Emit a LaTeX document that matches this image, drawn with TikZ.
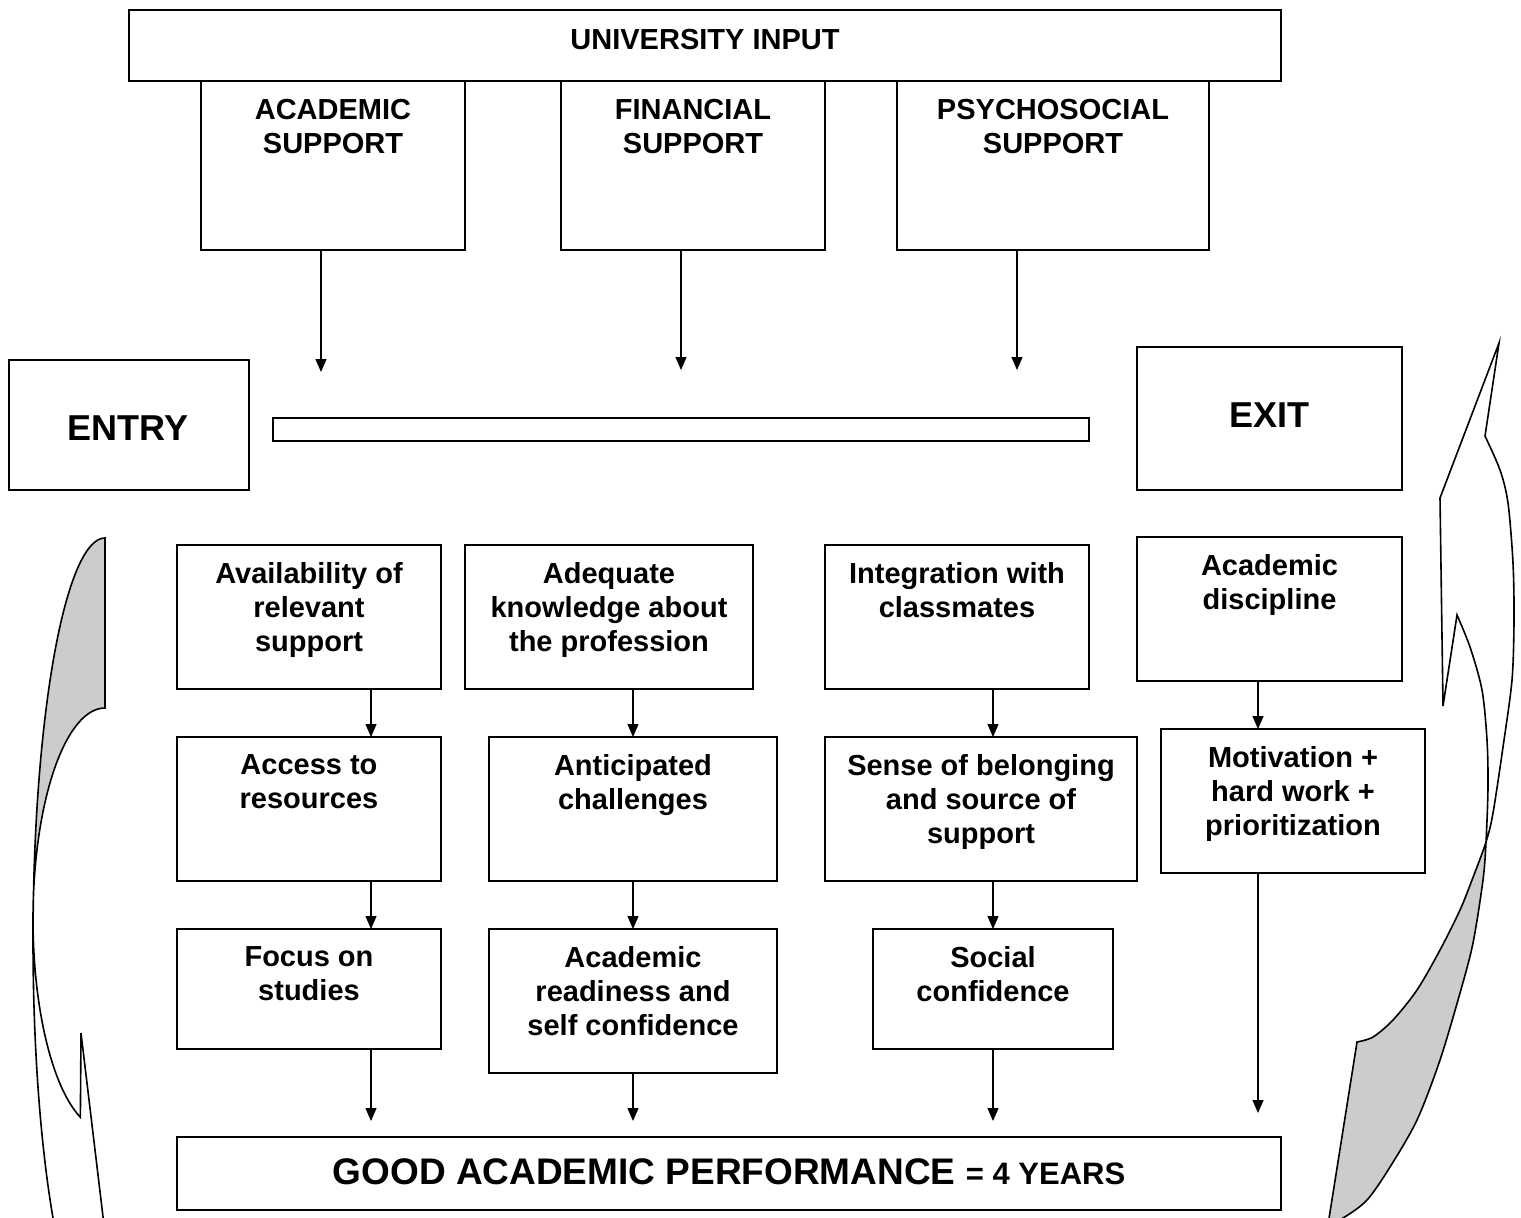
\documentclass[tikz,border=0pt]{standalone}
\usepackage{fontspec}
\setmainfont{Liberation Sans}
\usetikzlibrary{arrows.meta}
\definecolor{backface}{gray}{0.8}
\begin{document}
\begin{tikzpicture}[x=1pt, y=-1pt,
  box/.style={draw, line width=1.7pt, anchor=north west, inner sep=0pt, outer sep=0pt},
  txt/.style={anchor=north, align=center, inner sep=0pt, font=\bfseries\fontsize{29}{34}\selectfont},
  big/.style={inner sep=0pt, font=\bfseries\fontsize{36}{40}\selectfont},
  arr/.style={line width=1.3pt, -{Triangle[length=13pt,width=11pt]}},
  band/.style={line width=1.6pt, line join=miter}]
\useasboundingbox (0,0) rectangle (1521,1218);

% ---- curved arrows at both sides ----
\begin{scope}
  \clip (0,0) rectangle (1521,1218);
  % left arrow, pointing down
  \fill[backface]
    plot[domain=270:180, samples=50, variable=\t] ({105+72*cos(\t)},{940+402*sin(\t)})
    -- plot[domain=180:270, samples=50, variable=\t] ({105+72*cos(\t)},{919+211*sin(\t)})
    -- cycle;
  \draw[band] (107,1250) -- (81,1033)
    -- plot[domain=110:270, samples=80, variable=\t] ({105+72*cos(\t)},{919+211*sin(\t)})
    -- plot[domain=270:125, samples=100, variable=\t] ({105+72*cos(\t)},{940+402*sin(\t)});
  % right arrow, pointing up
  \fill[backface]
    plot[smooth] coordinates {(1486,842) (1472,880) (1460,910) (1440,950) (1417,990) (1393,1020) (1373,1037) (1357,1042)}
    -- (1324,1250) -- (1310,1250) -- (1318,1230)
    -- plot[smooth] coordinates {(1318,1230) (1343,1218) (1367,1200) (1390,1167) (1417,1120) (1440,1060) (1460,993) (1473,943) (1483,880) (1486,842)}
    -- cycle;
  \draw[band] (1324,1250) -- (1357,1042)
    -- plot[smooth] coordinates {(1357,1042) (1373,1037) (1393,1020) (1417,990) (1440,950) (1460,910) (1472,880) (1486,842) (1493,813) (1503,747) (1512,680) (1514,620) (1513,563) (1508,503) (1500,470) (1485,436)}
    -- (1499,343) -- (1440,498) -- (1443,706) -- (1457,615)
    -- plot[smooth] coordinates {(1457,615) (1470,647) (1482,690) (1487,740) (1488,787) (1486,842) (1483,880) (1473,943) (1460,993) (1440,1060) (1417,1120) (1390,1167) (1367,1200) (1343,1218) (1318,1230)};
\end{scope}

% ---- university input ----
\node[box, minimum width=1152pt, minimum height=71pt] (uni) at (129,10) {};
\node[txt] (uni-t) at ([yshift=-19.5pt]uni.north) {UNIVERSITY INPUT};

\node[box, minimum width=264pt, minimum height=169pt] (acad) at (201,81) {};
\node[txt] (acad-t) at ([yshift=-18pt]acad.north) {ACADEMIC\\SUPPORT};
\node[box, minimum width=264pt, minimum height=169pt] (fin) at (561,81) {};
\node[txt] (fin-t) at ([yshift=-18pt]fin.north) {FINANCIAL\\SUPPORT};
\node[box, minimum width=312pt, minimum height=169pt] (psy) at (897,81) {};
\node[txt] (psy-t) at ([yshift=-18pt]psy.north) {PSYCHOSOCIAL\\SUPPORT};

% ---- entry / exit ----
\node[box, minimum width=240pt, minimum height=130pt] (entry) at (9,360) {};
\node[big] (entry-t) at (128,428) {ENTRY};
\node[box, minimum width=816pt, minimum height=23pt] (bar) at (273,418) {};
\node[box, minimum width=265pt, minimum height=143pt] (exit) at (1137,347) {};
\node[big] (exit-t) at (1269,415) {EXIT};

% ---- first row ----
\node[box, minimum width=264pt, minimum height=144pt] (avail) at (177,545) {};
\node[txt] (avail-t) at ([yshift=-17.5pt]avail.north) {Availability of\\relevant\\support};
\node[box, minimum width=288pt, minimum height=144pt] (adeq) at (465,545) {};
\node[txt] (adeq-t) at ([yshift=-17.5pt]adeq.north) {Adequate\\knowledge about\\the profession};
\node[box, minimum width=264pt, minimum height=144pt] (integ) at (825,545) {};
\node[txt] (integ-t) at ([yshift=-17.5pt]integ.north) {Integration with\\classmates};
\node[box, minimum width=265pt, minimum height=144pt] (disc) at (1137,537) {};
\node[txt] (disc-t) at ([yshift=-17.5pt]disc.north) {Academic\\discipline};

% ---- second row ----
\node[box, minimum width=264pt, minimum height=144pt] (access) at (177,737) {};
\node[txt] (access-t) at ([yshift=-17.5pt]access.north) {Access to\\resources};
\node[box, minimum width=288pt, minimum height=144pt] (antic) at (489,737) {};
\node[txt] (antic-t) at ([yshift=-17.5pt]antic.north) {Anticipated\\challenges};
\node[box, minimum width=312pt, minimum height=144pt] (sense) at (825,737) {};
\node[txt] (sense-t) at ([yshift=-17.5pt]sense.north) {Sense of belonging\\and source of\\support};
\node[box, minimum width=264pt, minimum height=144pt] (motiv) at (1161,729) {};
\node[txt] (motiv-t) at ([yshift=-17.5pt]motiv.north) {Motivation +\\hard work +\\prioritization};

% ---- third row ----
\node[box, minimum width=264pt, minimum height=120pt] (focus) at (177,929) {};
\node[txt] (focus-t) at ([yshift=-17.5pt]focus.north) {Focus on\\studies};
\node[box, minimum width=288pt, minimum height=144pt] (ready) at (489,929) {};
\node[txt] (ready-t) at ([yshift=-17.5pt]ready.north) {Academic\\readiness and\\self confidence};
\node[box, minimum width=240pt, minimum height=120pt] (social) at (873,929) {};
\node[txt] (social-t) at ([yshift=-17.5pt]social.north) {Social\\confidence};

% ---- outcome ----
\node[box, minimum width=1104pt, minimum height=73pt] (good) at (177,1137) {};
\node[inner sep=0pt, font=\bfseries\fontsize{37}{40}\selectfont] (good-t) at (729,1172)
  {GOOD ACADEMIC PERFORMANCE {\fontsize{31}{34}\selectfont = 4 YEARS}};

% ---- arrow ends ----
\coordinate (t1) at (321,372);
\coordinate (t2) at (681,370);
\coordinate (t3) at (1017,370);
\coordinate (g1) at (371,1121);
\coordinate (g2) at (633,1121);
\coordinate (g3) at (993,1121);
\coordinate (g4) at (1258,1113);

% ---- connectors ----
\draw[arr] (acad.south -| t1) -- (t1);
\draw[arr] (fin.south -| t2) -- (t2);
\draw[arr] (psy.south -| t3) -- (t3);

\draw[arr] (avail.south -| g1) -- (access.north -| g1);
\draw[arr] (access.south -| g1) -- (focus.north -| g1);
\draw[arr] (focus.south -| g1) -- (g1);

\draw[arr] (adeq.south -| g2) -- (antic.north -| g2);
\draw[arr] (antic.south -| g2) -- (ready.north -| g2);
\draw[arr] (ready.south -| g2) -- (g2);

\draw[arr] (integ.south -| g3) -- (sense.north -| g3);
\draw[arr] (sense.south -| g3) -- (social.north -| g3);
\draw[arr] (social.south -| g3) -- (g3);

\draw[arr] (disc.south -| g4) -- (motiv.north -| g4);
\draw[arr] (motiv.south -| g4) -- (g4);
\end{tikzpicture}
\end{document}
